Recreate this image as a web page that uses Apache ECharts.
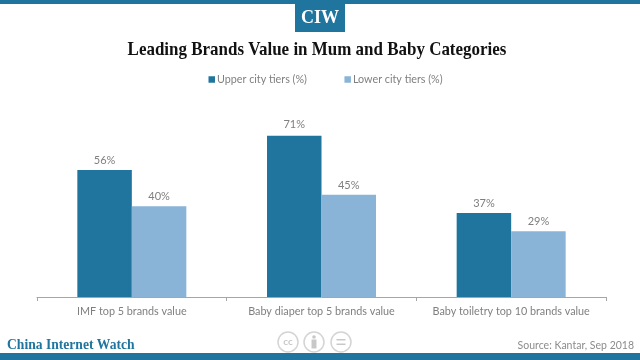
<!DOCTYPE html>
<html>
<head>
<meta charset="utf-8">
<style>html,body{margin:0;padding:0;background:#fff}#c{width:640px;height:360px}</style>
<script src="https://cdn.jsdelivr.net/npm/echarts@6/dist/echarts.min.js"></script>
</head>
<body>
<div id="c"></div>
<script>
const categories = ['IMF top 5 brands value', 'Baby diaper top 5 brands value', 'Baby toiletry top 10 brands value'];
const upperTiers = [56, 71, 37];
const lowerTiers = [40, 45, 29];
const upperName = 'Upper city tiers (%)';
const lowerName = 'Lower city tiers (%)';
const titleText = 'Leading Brands Value in Mum and Baby Categories';
const sourceText = 'Source: Kantar, Sep 2018';
const brandText = 'China Internet Watch';
const logoText = 'CIW';

const teal = '#20759e', light = '#8ab3d8', grey = '#7f7f7f';
const serif = '"Liberation Serif","DejaVu Serif",serif';
const label = {show: true, position: 'top', formatter: '{c}%', color: grey, fontFamily: 'Lato', fontSize: 11, distance: 4};
const ccRing = (cx) => ({type: 'circle', shape: {cx, cy: 342, r: 10}, style: {fill: '#fff', stroke: '#d4d4d4', lineWidth: 1.5}});
const upperData = upperTiers.map((value, i) => i === 1 ? {value, label: {distance: 6}} : value);

const chart = echarts.init(document.getElementById('c'), null, {renderer: 'canvas'});
chart.setOption({
  animation: false,
  backgroundColor: '#fff',
  legend: {
    top: 69, left: 203.5, itemWidth: 6.5, itemHeight: 6.5, itemGap: 37.5, icon: 'rect',
    textStyle: {fontFamily: 'Lato', fontSize: 10.75, color: grey, padding: [0, 0, 0, -3]}
  },
  grid: {left: 37, right: 34, top: 115.4, bottom: 63},
  xAxis: {
    type: 'category', data: categories,
    axisLine: {lineStyle: {color: '#a6a6a6', width: 1}},
    axisTick: {show: true, length: 4, lineStyle: {color: '#a6a6a6'}, inside: false},
    axisLabel: {color: grey, fontFamily: 'Lato', fontSize: 10.8, fontWeight: 'normal', margin: 9, interval: 0}
  },
  yAxis: {type: 'value', min: 0, max: 80, show: false, splitLine: {show: false}},
  series: [
    {name: upperName, type: 'bar', data: upperData, barWidth: 54.5, barGap: '0%', itemStyle: {color: teal}, label},
    {name: lowerName, type: 'bar', data: lowerTiers, barWidth: 54.5, itemStyle: {color: light}, label}
  ],
  graphic: [
    {type: 'rect', shape: {x: 0, y: 0, width: 640, height: 4}, style: {fill: teal}},
    {type: 'rect', shape: {x: 295, y: 0, width: 50, height: 32}, style: {fill: teal}},
    {type: 'text', x: 317, y: 18, scaleX: 1, style: {text: logoText, x: 3, fill: '#fff', font: 'bold 18px ' + serif, textAlign: 'center', textVerticalAlign: 'middle'}},
    {type: 'text', x: 317, y: 49.5, scaleX: 0.87, style: {text: titleText, fill: '#111', font: 'bold 19.5px ' + serif, textAlign: 'center', textVerticalAlign: 'middle'}},
    {type: 'rect', shape: {x: 0, y: 353, width: 640, height: 7}, style: {fill: teal}},
    {type: 'text', x: 7, y: 345, scaleX: 0.877, style: {text: brandText, fill: teal, font: 'bold 15.5px ' + serif, textAlign: 'left', textVerticalAlign: 'middle'}},
    {type: 'text', x: 634, y: 345.5, style: {text: sourceText, fill: '#8c8c8c', font: '10.5px Lato', textAlign: 'right', textVerticalAlign: 'middle'}},
    ccRing(288),
    {type: 'text', x: 288, y: 342, style: {text: 'cc', fill: '#c8c8c8', font: 'bold 10px Lato', textAlign: 'center', textVerticalAlign: 'middle'}},
    ccRing(314),
    {type: 'circle', shape: {cx: 314, cy: 337, r: 1.8}, style: {fill: '#c8c8c8'}},
    {type: 'rect', shape: {x: 311.5, y: 339.5, width: 5, height: 9}, style: {fill: '#c8c8c8'}},
    ccRing(341),
    {type: 'rect', shape: {x: 336.5, y: 339, width: 9, height: 1.5}, style: {fill: '#c8c8c8'}},
    {type: 'rect', shape: {x: 336.5, y: 343.5, width: 9, height: 1.5}, style: {fill: '#c8c8c8'}}
  ]
});
</script>
</body>
</html>
